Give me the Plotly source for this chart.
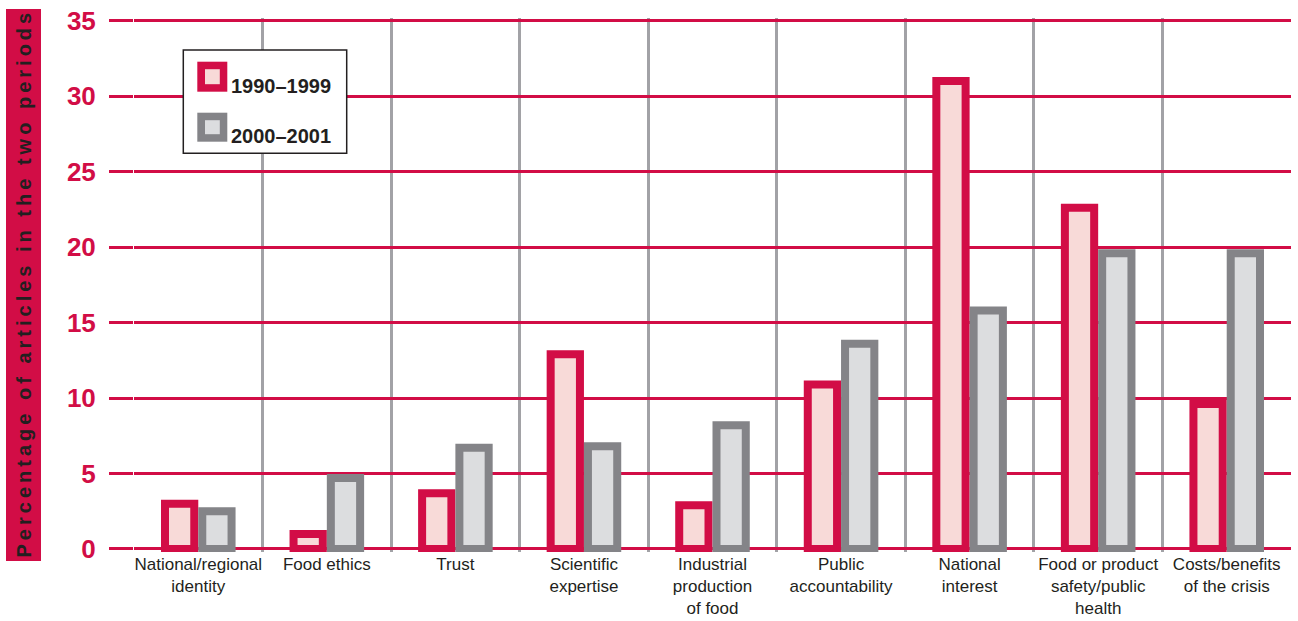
import plotly.graph_objects as go

# Media framing categories (x axis) and share of articles per period (%)
categories = [
    "National/regional<br>identity",
    "Food ethics",
    "Trust",
    "Scientific<br>expertise",
    "Industrial<br>production<br>of food",
    "Public<br>accountability",
    "National<br>interest",
    "Food or product<br>safety/public<br>health",
    "Costs/benefits<br>of the crisis",
]
period_1990_1999 = [3.0, 1.0, 3.7, 12.9, 2.9, 10.9, 31.0, 22.6, 9.6]
period_2000_2001 = [2.5, 4.7, 6.7, 6.8, 8.2, 13.6, 15.8, 19.6, 19.6]
y_ticks = [0, 5, 10, 15, 20, 25, 30, 35]
series_names = ["1990\u20131999", "2000\u20132001"]
y_title = "Percentage of articles in the two periods"

RED = "#d20d46"
PINK = "#f8dad8"
GREY = "#848488"
LIGHT_GREY = "#dcdddf"
GRID_GREY = "#a2a2a6"
DARK = "#231f20"

W, H = 1298, 621
L, R, T, B = 134, 7, 18, 69
PW, PH = W - L - R, H - T - B


def px_x(px):
    return (px - L) / PW


def px_y(py):
    return (H - B - py) / PH


fig = go.Figure()
fig.add_trace(go.Bar(
    x=categories, y=period_1990_1999, name=series_names[0],
    marker=dict(color=PINK, line=dict(color=RED, width=8)),
))
fig.add_trace(go.Bar(
    x=categories, y=period_2000_2001, name=series_names[1],
    marker=dict(color=LIGHT_GREY, line=dict(color=GREY, width=8)),
))

shapes = []
annotations = []

# Vertical title band on the left
shapes.append(dict(type="rect", xref="paper", yref="paper",
                   x0=px_x(6), x1=px_x(41), y0=px_y(561), y1=px_y(9),
                   fillcolor=RED, line=dict(width=0), layer="above"))
spaced = "\u2009".join(y_title)
annotations.append(dict(xref="paper", yref="paper", x=px_x(23.5), y=px_y(285),
                        text=spaced, textangle=-90, showarrow=False,
                        font=dict(family="Liberation Sans, Arial, sans-serif",
                                  size=20, color=DARK, weight="bold"),
                        xanchor="center", yanchor="middle"))

# Legend box
shapes.append(dict(type="rect", xref="paper", yref="paper",
                   x0=px_x(183.3), x1=px_x(346.7), y0=px_y(153.3), y1=px_y(50),
                   fillcolor="white", line=dict(color=DARK, width=1.5),
                   layer="above"))
legend_rows = [
    (series_names[0], RED, PINK, 61.7, 91.7),
    (series_names[1], GREY, LIGHT_GREY, 112.7, 141.7),
]
for name, edge, fill, top, bottom in legend_rows:
    shapes.append(dict(type="rect", xref="paper", yref="paper",
                       x0=px_x(197.3), x1=px_x(227.3),
                       y0=px_y(bottom), y1=px_y(top),
                       fillcolor=edge, line=dict(width=0), layer="above"))
    shapes.append(dict(type="rect", xref="paper", yref="paper",
                       x0=px_x(205), x1=px_x(219.8),
                       y0=px_y(bottom - 7.5), y1=px_y(top + 7.5),
                       fillcolor=fill, line=dict(width=0), layer="above"))
    annotations.append(dict(xref="paper", yref="paper",
                            x=px_x(229), y=px_y(bottom - 6),
                            text=name, showarrow=False,
                            xanchor="left", yanchor="middle",
                            font=dict(family="Liberation Sans, Arial, sans-serif",
                                      size=20, color=DARK, weight="bold")))

fig.update_layout(
    width=W, height=H,
    margin=dict(l=L, r=R, t=T, b=B, pad=0, autoexpand=False),
    paper_bgcolor="white", plot_bgcolor="white",
    barmode="group", bargap=0.42, bargroupgap=0.2145,
    showlegend=False,
    shapes=shapes, annotations=annotations,
    xaxis=dict(
        type="category", tickson="boundaries", tickangle=0, automargin=False,
        showgrid=True, gridcolor=GRID_GREY, gridwidth=2.5,
        ticks="", showline=False, zeroline=False,
        tickfont=dict(family="Liberation Sans, Arial, sans-serif",
                      size=17, color=DARK),
    ),
    yaxis=dict(
        range=[-0.2, 35.18], tickvals=y_ticks, automargin=False,
        showgrid=True, gridcolor=RED, gridwidth=2.5,
        ticks="outside", ticklen=24, tickwidth=2.5, tickcolor=RED,
        ticklabelstandoff=8,
        showline=False, zeroline=False,
        tickfont=dict(family="Liberation Sans, Arial, sans-serif",
                      size=26, color=RED, weight="bold"),
    ),
)

fig.write_html("out.html")
